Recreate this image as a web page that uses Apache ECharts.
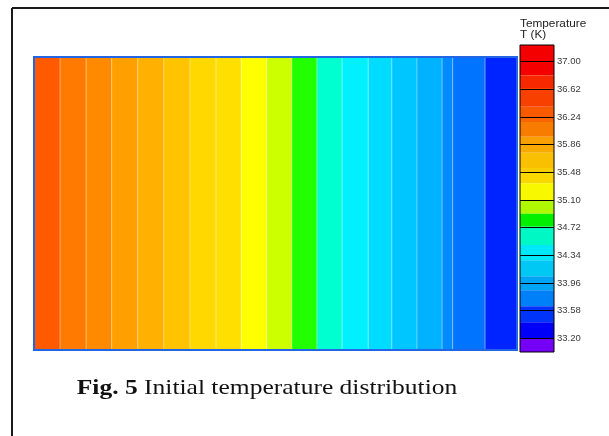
<!DOCTYPE html>
<html>
<head>
<meta charset="utf-8">
<script src="https://cdn.jsdelivr.net/npm/echarts@6/dist/echarts.min.js"></script>
<style>
	html, body { margin: 0; padding: 0; background: #fff; }
	#grafico { width: 609px; height: 436px; }
</style>
</head>
<body>
<div id="grafico"></div>
<script>
	// FAIXAS DO CAMPO DE TEMPERATURA (posicao em % do comprimento, esquerda -> direita)
	var bandEdges = [0, 5.4, 10.8, 16.1, 21.5, 26.9, 32.3, 37.7, 42.9, 48.2, 53.4, 58.6, 63.8, 69.2, 74.1, 79.3, 84.5, 86.7, 93.4, 100];
	// temperatura (K) de cada faixa
	var bandTemps = [36.30, 36.13, 35.96, 35.80, 35.63, 35.46, 35.29, 35.12, 34.96, 34.79, 34.62, 34.46, 34.29, 34.12, 33.95, 33.79, 33.66, 33.53, 33.33];
	// niveis de contorno (K) e cores
	var contourLevels = [36.38, 36.21, 36.05, 35.88, 35.71, 35.54, 35.38, 35.21, 35.04, 34.87, 34.71, 34.54, 34.37, 34.20, 34.04, 33.87, 33.70, 33.60, 33.45, 33.20];
	var contourColors = ['#ff5a00', '#ff7a00', '#ff8a00', '#ffa000', '#ffb000', '#ffc300', '#ffd800', '#ffdf00', '#ffff00', '#ccff00',
		'#22ff00', '#00ffd0', '#00f0ff', '#00dcff', '#00c6ff', '#00b2ff', '#008cff', '#0074ff', '#0024ff'];

	// BARRA DE CORES (K, de cima para baixo)
	var legendEdges = [37.23, 36.81, 36.64, 36.38, 36.24, 36.17, 35.97, 35.86, 35.75, 35.54, 35.47, 35.33, 35.10, 34.91, 34.73, 34.48, 34.27, 34.05, 33.86, 33.64, 33.42, 33.20, 33.01];
	var legendColors = ['#f40000', '#f62800', '#f84000', '#f85a00', '#f86600', '#f87c00', '#f8a000', '#f8aa00', '#f8c000', '#f8ce00', '#f8d800',
		'#f8f800', '#b0f800', '#00f000', '#00f8c4', '#00e8f8', '#00c8f4', '#00a4f4', '#0080f8', '#0034f8', '#0000f8', '#7400f8'];
	var legendTicks = [37.00, 36.62, 36.24, 35.86, 35.48, 35.10, 34.72, 34.34, 33.96, 33.58, 33.20];

	var G1 = { left: 34, top: 57, width: 483, height: 293 };
	var G2 = { left: 520, top: 45, width: 34, height: 307 };

	var myChart = echarts.init(document.getElementById('grafico'));

	var pieces = contourColors.map(function (c, i) {
		return { gte: contourLevels[i + 1], lt: contourLevels[i], color: c };
	});

	var campo = bandTemps.map(function (t, i) { return [bandEdges[i], bandEdges[i + 1], t]; });
	var barra = legendColors.map(function (c, i) { return [legendEdges[i], legendEdges[i + 1]]; });

	var option = {
		animation: false,
		grid: [
			{ left: G1.left, top: G1.top, width: G1.width, height: G1.height },
			{ left: G2.left, top: G2.top, width: G2.width, height: G2.height }
		],
		xAxis: [
			{ type: 'value', gridIndex: 0, min: 0, max: 100, show: false },
			{ type: 'value', gridIndex: 1, min: 0, max: 1, show: false }
		],
		yAxis: [
			{ type: 'value', gridIndex: 0, min: 0, max: 1, show: false },
			{
				type: 'value', gridIndex: 1, min: 33.01, max: 37.23, position: 'right',
				axisLine: { show: false },
				splitLine: { show: false },
				axisTick: { show: true, length: 4, customValues: legendTicks, lineStyle: { color: '#000', width: 1 } },
				axisLabel: {
					show: true, customValues: legendTicks, margin: 3,
					fontFamily: 'Liberation Sans', fontSize: 9.5, color: '#3a3a3a',
					formatter: function (v) { return v.toFixed(2); }
				}
			}
		],
		visualMap: {
			type: 'piecewise', show: false, seriesIndex: 0, dimension: 2, pieces: pieces
		},
		series: [
			{
				type: 'custom', xAxisIndex: 0, yAxisIndex: 0,
				encode: { x: [0, 1] },
				data: campo,
				renderItem: function (params, api) {
					var p0 = api.coord([api.value(0), 1]);
					var p1 = api.coord([api.value(1), 0]);
					return {
						type: 'rect',
						shape: { x: p0[0], y: p0[1], width: p1[0] - p0[0], height: p1[1] - p0[1] },
						style: { fill: api.visual('color'), stroke: 'rgba(255,255,255,0.28)', lineWidth: 1 }
					};
				}
			},
			{
				type: 'custom', xAxisIndex: 1, yAxisIndex: 1,
				encode: { y: [0, 1] },
				data: barra,
				renderItem: function (params, api) {
					var p0 = api.coord([0, api.value(0)]);
					var p1 = api.coord([1, api.value(1)]);
					return {
						type: 'rect',
						shape: { x: p0[0], y: p0[1], width: p1[0] - p0[0], height: p1[1] - p0[1] },
						style: { fill: legendColors[params.dataIndex] }
					};
				},
				markLine: {
					silent: true, symbol: 'none', label: { show: false },
					lineStyle: { color: '#000', width: 1, type: 'solid' },
					data: legendTicks.map(function (v) { return { yAxis: v }; })
				}
			}
		],
		graphic: [
			// moldura da figura
			{ type: 'line', z: 100, shape: { x1: 12, y1: 8, x2: 609, y2: 8 }, style: { stroke: '#1a1a1a', lineWidth: 2 } },
			{ type: 'line', z: 100, shape: { x1: 12, y1: 8, x2: 12, y2: 436 }, style: { stroke: '#1a1a1a', lineWidth: 2 } },
			// borda do dominio
			{ type: 'rect', z: 100, shape: { x: G1.left, y: G1.top, width: G1.width, height: G1.height },
				style: { fill: null, stroke: '#2266e6', lineWidth: 2 } },
			// borda da barra de cores
			{ type: 'rect', z: 100, shape: { x: G2.left, y: G2.top, width: G2.width, height: G2.height },
				style: { fill: null, stroke: '#000', lineWidth: 1 } },
			{ type: 'text', z: 100, x: 520, y: 24, scaleX: 1.18,
				style: { text: 'Temperature', fontFamily: 'Liberation Sans', fontSize: 10, fill: '#222', verticalAlign: 'middle' } },
			{ type: 'text', z: 100, x: 520, y: 35, scaleX: 1.18,
				style: { text: 'T (K)', fontFamily: 'Liberation Sans', fontSize: 10, fill: '#222', verticalAlign: 'middle' } },
			{ type: 'text', z: 100, x: 267, y: 388, scaleX: 1.16,
				style: {
					text: '{b|Fig. 5} Initial temperature distribution',
					align: 'center', verticalAlign: 'middle',
					fontFamily: 'Liberation Serif', fontSize: 22, fill: '#111',
					rich: { b: { fontFamily: 'Liberation Serif', fontSize: 22, fontWeight: 'bold', fill: '#111' } }
				} }
		]
	};
	// aplico as alterações de layout no chart
	myChart.setOption(option);
</script>
</body>
</html>
